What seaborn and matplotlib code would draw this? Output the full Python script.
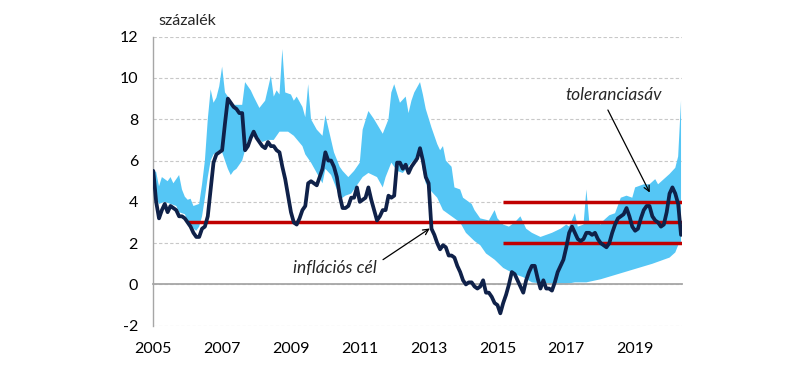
import numpy as np
import matplotlib
matplotlib.use("Agg")
import matplotlib.pyplot as plt
import seaborn as sns

# ---- data (monthly, month 0 = Jan 2005) ----
cpi = [5.5, 4.0, 3.2, 3.6, 3.9, 3.5, 3.8, 3.7, 3.6, 3.3, 3.3, 3.2,
       3.0, 2.8, 2.5, 2.3, 2.3, 2.7, 2.8, 3.3, 4.6, 5.9, 6.3, 6.4,
       6.5, 7.8, 9.0, 8.8, 8.6, 8.5, 8.3, 8.3, 6.5, 6.7, 7.1, 7.4,
       7.1, 6.9, 6.7, 6.6, 6.9, 6.7, 6.7, 6.5, 6.4, 5.7, 5.1, 4.3,
       3.5, 3.0, 2.9, 3.2, 3.6, 3.8, 4.9, 5.0, 4.9, 4.8, 5.2, 5.6,
       6.4, 6.0, 6.0, 5.7, 5.2, 4.3, 3.7, 3.7, 3.8, 4.2, 4.2, 4.7,
       4.0, 4.1, 4.2, 4.7, 4.1, 3.6, 3.1, 3.3, 3.6, 3.6, 4.3, 4.2,
       4.3, 5.9, 5.9, 5.6, 5.8, 5.4, 5.7, 5.9, 6.1, 6.6, 6.0, 5.2,
       4.9, 2.7, 2.4, 2.0, 1.7, 1.9, 1.8, 1.4, 1.4, 1.3, 0.9, 0.6,
       0.2, 0.0, 0.1, 0.1, -0.1, -0.2, -0.1, 0.2, -0.4, -0.4, -0.6, -0.9,
       -1.0, -1.4, -0.9, -0.5, 0.0, 0.6, 0.5, 0.2, -0.1, -0.4, 0.2, 0.6,
       0.9, 0.9, 0.3, -0.2, 0.2, -0.2, -0.2, -0.3, 0.1, 0.6, 0.9, 1.2,
       1.8, 2.5, 2.8, 2.5, 2.2, 2.1, 2.2, 2.5, 2.5, 2.4, 2.5, 2.2,
       2.0, 1.9, 1.8, 2.0, 2.5, 2.9, 3.2, 3.3, 3.4, 3.7, 3.3, 2.8,
       2.6, 2.7, 3.2, 3.6, 3.8, 3.8, 3.3, 3.1, 3.0, 2.8, 2.9, 3.5,
       4.4, 4.7, 4.4, 3.9, 2.4]

upper_month = [0, 1, 2, 3, 5, 6, 7, 9, 10, 11, 12, 13, 14, 16, 17, 18, 19, 20, 21, 22,
               23, 24, 25, 27, 28, 31, 32, 34, 35, 37, 39, 41, 42, 43, 44, 45, 46, 48, 49, 50,
               52, 53, 54, 55, 57, 59, 60, 62, 63, 65, 66, 68, 70, 72, 73, 75, 77, 80, 82, 83,
               84, 86, 88, 89, 90, 91, 93, 94, 95, 97, 99, 100, 101, 102, 104, 105, 107, 108, 111, 112,
               114, 117, 119, 120, 122, 124, 126, 128, 130, 132, 135, 137, 139, 142, 144, 145, 147, 148, 150, 151,
               152, 154, 156, 157, 159, 161, 163, 165, 167, 168, 171, 173, 175, 176, 178, 180, 182, 183, 184]
upper = [5.5, 5.45, 4.75, 5.2, 5.0, 5.2, 4.9, 5.3, 4.6, 4.25, 4.1, 4.15, 3.8, 3.9, 4.85, 6.0, 8.0, 9.45, 8.8, 9.05,
         9.6, 10.55, 9.3, 8.9, 8.7, 8.7, 9.8, 9.4, 9.1, 8.55, 8.9, 10.1, 9.1, 9.4, 9.2, 11.4, 9.3, 9.2, 8.9, 9.1,
         8.6, 8.1, 9.7, 8.0, 7.5, 7.2, 8.2, 7.0, 6.4, 5.7, 5.5, 5.2, 5.5, 5.9, 7.5, 8.4, 8.0, 7.3, 8.0, 9.3,
         9.7, 8.8, 9.1, 8.3, 8.9, 9.3, 9.8, 9.2, 8.5, 7.6, 6.8, 6.5, 6.7, 6.0, 5.7, 4.7, 4.6, 4.2, 3.9, 3.6,
         3.2, 3.1, 3.6, 3.2, 2.9, 2.8, 3.0, 3.3, 2.7, 2.5, 2.3, 2.4, 2.5, 2.7, 2.9, 2.8, 3.45, 2.8, 2.9, 4.6,
         3.05, 3.05, 2.9, 3.1, 3.35, 3.45, 4.2, 4.3, 4.2, 4.7, 4.85, 4.85, 5.1, 4.85, 5.1, 5.35, 5.65, 6.2, 8.9]

lower_month = [0, 1, 2, 4, 6, 8, 9, 11, 12, 13, 14, 15, 16, 17, 18, 19, 20, 21, 22, 23,
               24, 25, 26, 27, 28, 29, 30, 31, 32, 33, 35, 36, 38, 40, 42, 44, 47, 49, 52, 53,
               55, 57, 59, 60, 62, 64, 65, 67, 69, 72, 73, 75, 78, 80, 81, 83, 85, 87, 90, 92,
               93, 94, 95, 97, 99, 101, 104, 107, 109, 112, 114, 116, 119, 122, 126, 129, 132, 135, 140, 143,
               147, 151, 156, 162, 168, 174, 177, 180, 182, 183, 184]
lower = [5.2, 4.2, 3.9, 4.0, 3.9, 3.8, 3.5, 3.4, 3.1, 2.9, 2.7, 2.6, 2.8, 3.3, 4.2, 5.2, 6.0, 6.3, 6.4, 6.5,
         6.4, 6.0, 5.6, 5.3, 5.5, 5.6, 5.8, 6.0, 6.5, 7.0, 7.4, 7.2, 6.9, 7.0, 7.0, 7.4, 7.4, 7.2, 6.7, 6.3,
         5.9, 5.4, 4.9, 5.6, 5.3, 4.6, 4.1, 4.3, 4.4, 5.0, 5.2, 5.4, 5.2, 4.7, 5.2, 5.9, 5.5, 5.4, 5.9, 6.2,
         6.4, 5.5, 4.9, 4.5, 4.2, 3.6, 3.3, 3.0, 2.5, 2.1, 1.9, 1.5, 1.2, 0.8, 0.5, 0.35, 0.1, 0.05, 0.0, 0.0,
         0.1, 0.1, 0.25, 0.5, 0.75, 1.0, 1.15, 1.3, 1.55, 1.9, 2.0]

target = 3.0
target_from = 12          # Jan 2006
tolerance = [2.0, 4.0]
tolerance_from = 122      # Mar 2015
tick_years = [2005, 2007, 2009, 2011, 2013, 2015, 2017, 2019]

NAVY = "#0F2149"
RED = "#C00000"
BLUE = "#55C6F5"
GREY = "#A6A6A6"

sns.set_style("white")
plt.rcParams["font.family"] = ["Lato", "DejaVu Sans"]
plt.rcParams["axes.unicode_minus"] = False

fig, ax = plt.subplots(figsize=(8, 3.7), dpi=100)
fig.subplots_adjust(left=0.1916, right=0.852, bottom=0.1197, top=0.9008)

months = np.arange(len(cpi))
x_end = len(cpi) - 1 + 0.2

# expectations range (light blue area)
ax.fill(np.concatenate([upper_month, lower_month[::-1]]),
        np.concatenate([upper, lower[::-1]]),
        color=BLUE, lw=0, zorder=1)

# inflation target and tolerance band
ax.hlines(target, target_from, x_end, color=RED, lw=2.5, zorder=3)
ax.hlines(tolerance, tolerance_from, x_end, color=RED, lw=2.5, zorder=3)

sns.lineplot(x=months, y=cpi, ax=ax, color=NAVY, lw=2.7, zorder=4)

ax.set_xlim(0, x_end)
ax.set_ylim(-2, 12)
ax.set_yticks(np.arange(-2, 13, 2))
ax.set_xticks([(y - 2005) * 12 for y in tick_years])
ax.set_xticklabels([str(y) for y in tick_years])
ax.set_xticks([(y - 2005) * 12 + 12 for y in tick_years], minor=True)
ax.set_xlabel("")
ax.set_ylabel("")

ax.set_axisbelow(True)
ax.yaxis.grid(True, color="#C8C8C8", linestyle=(0, (3, 2)), lw=0.8)
ax.xaxis.grid(False)

for s in ["top", "right"]:
    ax.spines[s].set_visible(False)
ax.spines["left"].set_color(GREY)
ax.spines["left"].set_linewidth(1.0)
ax.spines["bottom"].set_position(("data", 0))
ax.spines["bottom"].set_color(GREY)
ax.spines["bottom"].set_linewidth(1.3)
ax.spines["bottom"].set_zorder(2)

ax.tick_params(axis="y", length=4, width=1, color=GREY, pad=7, labelsize=11.5, labelcolor="black")
ax.tick_params(axis="x", which="both", direction="out", length=3.5, width=1, color=GREY)
ax.tick_params(axis="x", which="major", pad=38, labelsize=11.5, labelcolor="black")

fig.text(187 / 800, 1 - 21 / 370, "százalék", ha="center", va="center", fontsize=11.5)

ax.text(160.6, 9.18, "toleranciasáv", ha="center", va="center", fontsize=12.5, style="italic")
ax.annotate("", xy=(173.1, 4.45), xytext=(158.5, 8.45),
            arrowprops=dict(arrowstyle="->", color="black", lw=0.9, shrinkA=0, shrinkB=0))

ax.text(63.3, 0.79, "inflációs cél", ha="center", va="center", fontsize=12.5, style="italic")
ax.annotate("", xy=(96.4, 2.71), xytext=(80.1, 1.2),
            arrowprops=dict(arrowstyle="->", color="black", lw=0.9, shrinkA=0, shrinkB=0))

plt.savefig("out.png", dpi=100)
